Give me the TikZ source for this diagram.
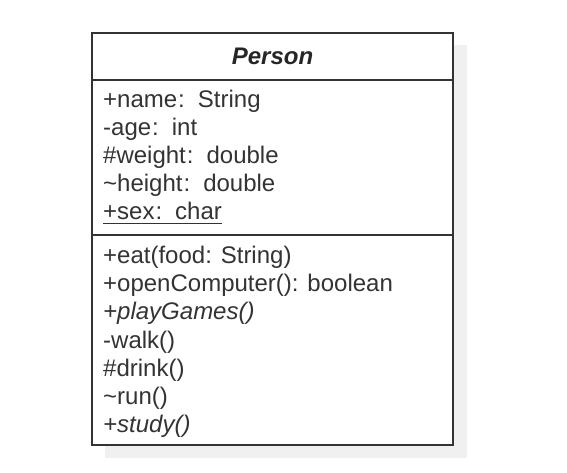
\documentclass[tikz,border=0pt]{standalone}
\usepackage{fontspec}
\setmainfont{Liberation Sans}
\begin{document}
\begin{tikzpicture}[x=1pt,y=-1pt,
  txt/.style={anchor=base west,inner sep=0pt,text=black!80,font=\fontsize{24}{28}\selectfont},
  boxline/.style={draw=black!80,line width=1.6pt}]
\useasboundingbox (0,0) rectangle (567,472);
\fill[black!6] (105,45) rectangle (467,458);
\fill[white] (92,33) rectangle (453,445);
\draw[boxline] (92,33) rectangle (453,445);
\draw[boxline] (92,80) -- (453,80);
\draw[boxline] (92,235) -- (453,235);
\node[anchor=base,inner sep=0pt,text=black!85,font=\fontsize{24}{28}\selectfont\bfseries\itshape] (title) at (272.5,64) {Person};
\node[txt] (a1) at (103,107) {+name\kern1pt:\hspace{13pt}String};
\node[txt] (a2) at (103,135) {-age\kern1pt:\hspace{13pt}int};
\node[txt] (a3) at (103,163) {\#weight\kern1pt:\hspace{13pt}double};
\node[txt] (a4) at (103,191) {\textasciitilde height\kern1pt:\hspace{13pt}double};
\node[txt] (a5) at (103,219) {+sex\kern1pt:\hspace{13pt}char};
\draw[black!80,line width=1.4pt] (a5.south west)++(0,4) -- ([yshift=-4pt]a5.south east);
\node[txt] (m1) at (103,263) {+eat(food: String)};
\node[txt] (m2) at (103,291) {+openComputer(): boolean};
\node[txt] (m3) at (103,319) {\itshape +playGames()};
\node[txt] (m4) at (103,348) {-walk()};
\node[txt] (m5) at (103,376) {\#drink()};
\node[txt] (m6) at (103,404) {\textasciitilde run()};
\node[txt] (m7) at (103,432) {\itshape +study()};
\end{tikzpicture}
\end{document}
